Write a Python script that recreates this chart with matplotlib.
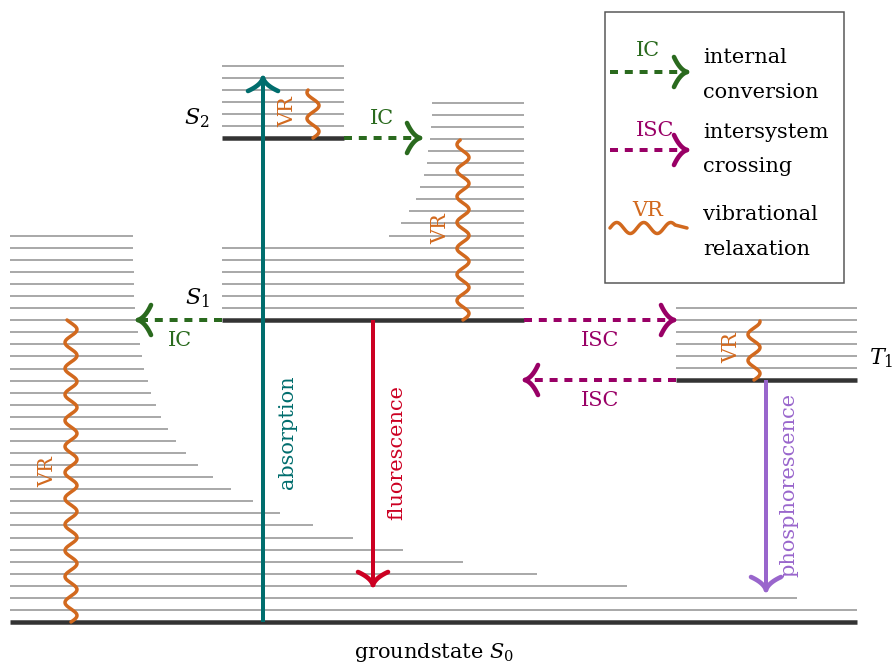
import matplotlib
matplotlib.use("Agg")
import matplotlib.pyplot as plt
import numpy as np

plt.rcParams['font.family'] = ['DejaVu Serif']
plt.rcParams['mathtext.fontset'] = 'dejavuserif'

# level positions (pixel units, y grows downwards)
step = 12.07
ground_y, s1_y, s2_y, t1_y = 622, 320, 138, 380
ground_x = (10, 857)
s1_x = (222, 524)
s2_x = (222, 344)
t1_x = (676, 857)

# right ends of ground-state vibrational levels, from bottom (k=1) upward
ground_vib_right = [857, 797, 627, 537, 463, 403, 353, 313, 280, 253, 231, 213,
                    198, 186, 176, 168, 161, 156, 151, 148, 144, 142, 140, 138,
                    137, 135, 134, 134, 134, 133, 133, 133]
# left ends of S1 vibrational levels, from bottom (k=1) upward
s1_vib_left = [222, 222, 222, 222, 222, 222, 389, 401, 409, 416, 420, 424,
               427, 428, 430, 431, 432, 432]
n_s2_vib = 6
n_t1_vib = 6

c_level = '#333333'
c_vib = '#aaaaaa'
c_abs = '#006d6d'
c_flu = '#cc0022'
c_pho = '#9966cc'
c_ic = '#2a6a1e'
c_isc = '#990066'
c_vr = '#d2691e'

PX = 0.72  # points per pixel at dpi 100

fig = plt.figure(figsize=(8.94, 6.65), dpi=100)
ax = fig.add_axes([0, 0, 1, 1])
ax.set_xlim(0, 894)
ax.set_ylim(665, 0)
ax.axis('off')


def vib(x0, x1, y):
    ax.plot([x0, x1], [y, y], color=c_vib, lw=2 * PX, solid_capstyle='butt')


for k, xr in enumerate(ground_vib_right, start=1):
    vib(ground_x[0], xr, ground_y - k * step)
for k, xl in enumerate(s1_vib_left, start=1):
    vib(xl, s1_x[1], s1_y - k * step)
for k in range(1, n_s2_vib + 1):
    vib(s2_x[0], s2_x[1], s2_y - k * step)
for k in range(1, n_t1_vib + 1):
    vib(t1_x[0], t1_x[1], t1_y - k * step)

for (x0, x1), y in [(ground_x, ground_y), (s1_x, s1_y), (s2_x, s2_y), (t1_x, t1_y)]:
    ax.plot([x0, x1], [y, y], color=c_level, lw=4.5 * PX, solid_capstyle='butt')


def head(tip, d, color, lw, back=13, side=15):
    tip = np.array(tip, float)
    d = np.array(d, float)
    d = d / np.hypot(*d)
    n = np.array([-d[1], d[0]])
    t = np.linspace(0, 1, 30)[:, None]
    for s in (1, -1):
        e = tip - back * d + s * side * n
        c = tip - 0.55 * back * d + s * 0.15 * side * n
        b = (1 - t) ** 2 * e + 2 * (1 - t) * t * c + t ** 2 * tip
        ax.plot(b[:, 0], b[:, 1], color=color, lw=lw * 1.15, solid_capstyle='round')


def arrow(start, tip, color, dashed=False, lw=4 * PX):
    start = np.array(start, float)
    tip = np.array(tip, float)
    d = tip - start
    ls = (0, (2.0, 1.7)) if dashed else '-'
    ax.plot([start[0], tip[0] - d[0] / np.hypot(*d) * 2],
            [start[1], tip[1] - d[1] / np.hypot(*d) * 2],
            color=color, lw=lw, linestyle=ls, solid_capstyle='butt',
            dash_capstyle='butt')
    head(tip, d, color, lw)


def squiggle(x, y0, y1, amp=6, period=26, horizontal=False, tail=0):
    s = np.linspace(0, abs(y1 - y0) - tail, 300)
    w = amp * np.sin(2 * np.pi * s / period)
    if horizontal:
        xs = np.append(y0 + s, y1)
        ys = np.append(x - w, x)
    else:
        xs = x + w
        ys = y0 + s if y1 > y0 else y0 - s
    ax.plot(xs, ys, color=c_vr, lw=3.5 * PX, solid_capstyle='round')


fs = 15
# transitions
arrow((263, ground_y), (263, 78), c_abs)
arrow((373, s1_y), (373, 585), c_flu)
arrow((766, t1_y), (766, 590), c_pho)
arrow((s2_x[1], s2_y), (420, s2_y), c_ic, dashed=True)
arrow((s1_x[0], s1_y), (138, s1_y), c_ic, dashed=True)
arrow((s1_x[1], s1_y), (674, s1_y), c_isc, dashed=True)
arrow((t1_x[0], t1_y), (525, t1_y), c_isc, dashed=True)

squiggle(71, ground_y, s1_y)
squiggle(463, s1_y, 140)
squiggle(313, s2_y, 90)
squiggle(754, t1_y, 321)

ax.text(288, 432, 'absorption', color=c_abs, fontsize=fs, rotation=90, ha='center', va='center')
ax.text(397, 452, 'fluorescence', color=c_flu, fontsize=fs, rotation=90, ha='center', va='center')
ax.text(789, 485, 'phosphorescence', color=c_pho, fontsize=fs, rotation=90, ha='center', va='center')

ax.text(382, 118, 'IC', color=c_ic, fontsize=fs, ha='center', va='center')
ax.text(180, 340, 'IC', color=c_ic, fontsize=fs, ha='center', va='center')
ax.text(600, 340, 'ISC', color=c_isc, fontsize=fs, ha='center', va='center')
ax.text(600, 400, 'ISC', color=c_isc, fontsize=fs, ha='center', va='center')

for x, y in [(288, 112), (441, 229), (48, 472), (732, 348)]:
    ax.text(x, y, 'VR', color=c_vr, fontsize=fs, rotation=90, ha='center', va='center')

ax.text(197, 118, '$S_2$', fontsize=fs + 1, ha='center', va='center')
ax.text(197, 298, '$S_1$', fontsize=fs + 1, ha='center', va='center')
ax.text(881, 358, '$T_1$', fontsize=fs + 1, ha='center', va='center')
ax.text(434, 652, 'groundstate $S_0$', fontsize=fs, ha='center', va='center')

# legend
ax.add_patch(plt.Rectangle((605, 12), 239, 271, fill=False, ec='#555555', lw=1.5 * PX))
arrow((610, 72), (687, 72), c_ic, dashed=True)
arrow((610, 150), (687, 150), c_isc, dashed=True)
squiggle(228, 610, 687, amp=5.5, period=27, horizontal=True, tail=12)
ax.text(648, 50, 'IC', color=c_ic, fontsize=fs, ha='center', va='center')
ax.text(655, 130, 'ISC', color=c_isc, fontsize=fs, ha='center', va='center')
ax.text(648, 210, 'VR', color=c_vr, fontsize=fs, ha='center', va='center')
for y, txt in [(63, 'internal'), (98, 'conversion'), (138, 'intersystem'),
               (172, 'crossing'), (220, 'vibrational'), (255, 'relaxation')]:
    ax.text(703, y, txt, fontsize=fs, ha='left', va='baseline')

fig.savefig('out.png', dpi=100)
